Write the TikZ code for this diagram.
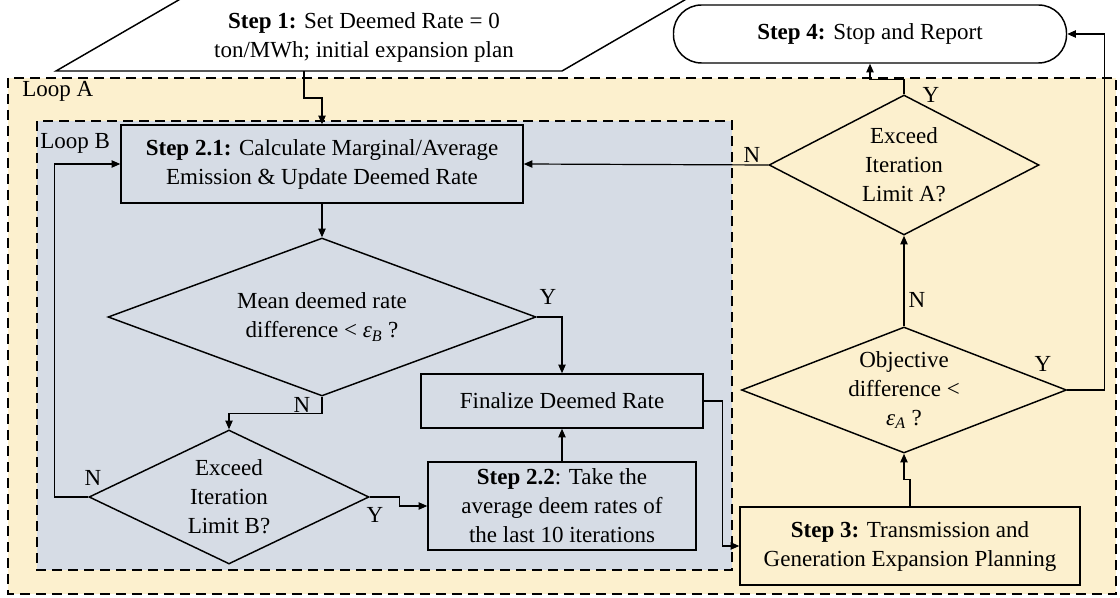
\documentclass[tikz,border=0pt]{standalone}
\usepackage{fontspec}
\setmainfont{Liberation Serif}
\usetikzlibrary{shapes.geometric,arrows.meta}
\definecolor{loopa}{HTML}{FCF0CE}
\definecolor{loopb}{HTML}{D6DCE5}
\newcommand{\eps}[1]{\textit{ε}\textsubscript{\textit{#1}}}
\begin{document}
\begin{tikzpicture}[x=0.75pt,y=-0.75pt,
    font=\fontsize{17.25pt}{21.75pt}\selectfont,
    every node/.style={align=center},
    stepbox/.style={draw,line width=1.1pt,inner sep=2pt},
    decision/.style={draw,diamond,line width=1.1pt,inner sep=0pt},
    loopframe/.style={draw,dash pattern=on 7.5pt off 4.5pt,line width=1.1pt},
    flow/.style={-{Triangle[length=6.5pt,width=5.5pt]},line width=0.9pt}]
    \useasboundingbox (0,0) rectangle (1120,598);
    \clip (0,0) rectangle (1120,598);
    \fill[white] (0,0) rectangle (1120,598);

    \draw[loopframe,fill=loopa] (8,78) rectangle (1116,594);
    \draw[loopframe,fill=loopb] (37,121) rectangle (732,570);
    \node[anchor=west,inner sep=0pt] (lpa) at (22,91) {Loop A};
    \node[anchor=west,inner sep=0pt] (lpb) at (40,143) {Loop B};

    \draw[line width=1.1pt,fill=white] (56,71) -- (562,71) -- (695,-6) -- (189,-6) -- cycle;
    \node (s1) at (364,37) {\textbf{Step 1:} Set Deemed Rate = 0\\ton/MWh; initial expansion plan};
    \coordinate (s1out) at (304,71);

    \node[stepbox,fill=white,rounded corners=21pt,minimum width=294.75pt,minimum height=43.5pt] (s4) at (870,34) {\textbf{Step 4:} Stop and Report};
    \node[stepbox,minimum width=301.5pt,minimum height=58.5pt] (s21) at (322,164) {\textbf{Step 2.1:} Calculate Marginal/Average\\Emission \& Update Deemed Rate};
    \node[decision,minimum width=321pt,minimum height=118.5pt,label={center:{Mean deemed rate\\difference < \eps{B} ?}}] (mean) at (322,317) {};
    \node[decision,minimum width=210pt,minimum height=100.5pt,label={center:{Exceed\\Iteration\\Limit B?}}] (exB) at (229,497) {};
    \node[stepbox,minimum width=211.5pt,minimum height=40.5pt] (final) at (562,401) {Finalize Deemed Rate};
    \node[stepbox,minimum width=201pt,minimum height=66pt] (s22) at (562,506) {\textbf{Step 2.2}: Take the\\average deem rates of\\the last 10 iterations};
    \node[stepbox,minimum width=255pt,minimum height=58.5pt] (s3) at (910,546) {\textbf{Step 3:} Transmission and\\Generation Expansion Planning};
    \node[decision,minimum width=243.75pt,minimum height=94.5pt,label={center:{Objective\\difference <\\\eps{A} ?}}] (obj) at (904,390) {};
    \node[decision,minimum width=202.5pt,minimum height=105pt,label={center:{Exceed\\Iteration\\Limit A?}}] (exA) at (904,165) {};

    \draw[flow] (s1out) -- ++(0,27) -| (s21);
    \draw[flow] (s21) -- (mean);
    \draw[flow] (mean.east) -| (final);
    \draw[flow] (mean.south) -- ++(0,17) -| (exB);
    \draw[flow] (exB.west) -- ++(-34,0) |- (s21.west);
    \draw[flow] (exB.east) -- ++(30,0) |- (s22.west);
    \draw[flow] (s22) -- (final);
    \draw[flow] (final.east) -- ++(19,0) |- (s3.west);
    \draw[flow] (s3.north) -- ++(0,-27) -| (obj);
    \draw[flow] (obj) -- (exA);
    \draw[flow] (exA.west) -- (s21.east);
    \draw[flow] (exA.north) -- ++(0,-15) -| (s4);
    \draw[flow] (obj.east) -- ++(37,0) |- (s4.east);

    \node (ymean) at (548,297) {Y};
    \node (nmean) at (302,405) {N};
    \node (nexb) at (93,478) {N};
    \node (yexb) at (375,515) {Y};
    \node (nexa) at (752,155) {N};
    \node (yexa) at (931,95) {Y};
    \node (nobj) at (917,300) {N};
    \node (yobj) at (1043,364) {Y};
\end{tikzpicture}
\end{document}
